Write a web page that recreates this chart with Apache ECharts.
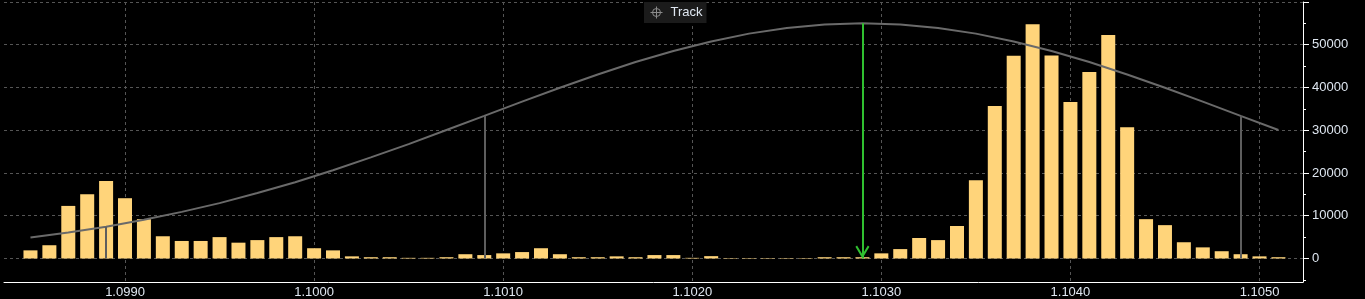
<!DOCTYPE html>
<html>
<head>
<meta charset="utf-8">
<script src="https://cdn.jsdelivr.net/npm/echarts@6/dist/echarts.min.js"></script>
<style>
html,body{margin:0;padding:0;background:#000;}
#chart{width:1365px;height:299px;}
</style>
</head>
<body>
<div id="chart"></div>
<script>
// Histogram bins (price level) and counts
const binCenters = [
  1.0985, 1.0986, 1.0987, 1.0988, 1.0989, 1.0990, 1.0991, 1.0992, 1.0993, 1.0994,
  1.0995, 1.0996, 1.0997, 1.0998, 1.0999, 1.1000, 1.1001, 1.1002, 1.1003, 1.1004,
  1.1005, 1.1006, 1.1007, 1.1008, 1.1009, 1.1010, 1.1011, 1.1012, 1.1013, 1.1014,
  1.1015, 1.1016, 1.1017, 1.1018, 1.1019, 1.1020, 1.1021, 1.1022, 1.1023, 1.1024,
  1.1025, 1.1026, 1.1027, 1.1028, 1.1029, 1.1030, 1.1031, 1.1032, 1.1033, 1.1034,
  1.1035, 1.1036, 1.1037, 1.1038, 1.1039, 1.1040, 1.1041, 1.1042, 1.1043, 1.1044,
  1.1045, 1.1046, 1.1047, 1.1048, 1.1049, 1.1050, 1.1051
];
const binCounts = [
  1900, 3100, 12300, 15000, 18100, 14100, 9200, 5200, 4100, 4100,
  5000, 3700, 4300, 5000, 5200, 2400, 1900, 500, 300, 300,
  150, 150, 300, 1000, 800, 1200, 1500, 2400, 1000, 300,
  300, 500, 300, 800, 800, 150, 550, 100, 100, 100,
  100, 100, 300, 300, 300, 1200, 2200, 4800, 4300, 7600,
  18300, 35700, 47400, 54800, 47500, 36600, 43600, 52300, 30700, 9200,
  7800, 3800, 2600, 1700, 1000, 500, 300
];

// "Track" curve
const curveX = [
  1.0985, 1.0987, 1.0989, 1.0991, 1.0993, 1.0995, 1.0997, 1.0999, 1.1001, 1.1003,
  1.1005, 1.1007, 1.1009, 1.1011, 1.1013, 1.1015, 1.1017, 1.1019, 1.1021, 1.1023,
  1.1025, 1.1027, 1.1029, 1.1031, 1.1033, 1.1035, 1.1037, 1.1039, 1.1041, 1.1043,
  1.1045, 1.1047, 1.1049, 1.1051
];
const curveY = [
  4900, 6100, 7450, 9050, 10900, 12950, 15300, 17850, 20650, 23650,
  26750, 30050, 33350, 36700, 39950, 43050, 45950, 48550, 50750, 52600,
  53900, 54750, 55000, 54750, 53900, 52600, 50750, 48550, 45950, 43050,
  39950, 36700, 33350, 30050
];

// Reference drop lines and arrow
const refX = [1.0989, 1.1009, 1.1049];
const refTop = [7450, 33350, 33350];
const arrowX = 1.1029;
const arrowTop = 55000;

// Axis ticks / labels
const xTickValues = [1.0990, 1.1000, 1.1010, 1.1020, 1.1030, 1.1040, 1.1050];
const yMajorTicks = [0, 10000, 20000, 30000, 40000, 50000, 60000];
const yMinorTicks = [-5000, 5000, 15000, 25000, 35000, 45000, 55000];
const yLabelValues = [0, 10000, 20000, 30000, 40000, 50000];

const labelColor = '#dfe7f1';
const gridColor = '#555555';
const fontFamily = "'Liberation Sans', Arial, sans-serif";

const chart = echarts.init(document.getElementById('chart'), null, {renderer: 'canvas'});

const barData = binCenters.map((x, i) => [x, binCounts[i]]);
const curveData = curveX.map((x, i) => [x, curveY[i]]);

const chevron = 'path://M6,0 L12,9 L10.6,10 L6,3 L1.4,10 L0,9 Z';

chart.setOption({
  animation: false,
  backgroundColor: '#000000',
  textStyle: {fontFamily: fontFamily},
  grid: {left: 4, right: 62, top: 2, bottom: 17, containLabel: false},
  legend: {
    left: 644, top: 2,
    padding: [4, 4, 4, 6],
    backgroundColor: '#1b1b1b',
    itemWidth: 12, itemHeight: 12,
    icon: 'path://M6,0 V12 M0,6 H12 M10,6 A4,4 0 1 1 2,6 A4,4 0 1 1 10,6',
    itemStyle: {color: 'transparent', borderColor: '#8a8a8a', borderWidth: 1},
    textStyle: {color: labelColor, fontSize: 13, fontFamily: fontFamily, padding: [0, 0, 0, 3]},
    data: ['Track']
  },
  xAxis: {
    type: 'value',
    min: 1.09836, max: 1.10523,
    axisLine: {show: true, onZero: false, lineStyle: {color: '#ffffff', width: 1}},
    axisTick: {show: false, customValues: xTickValues},
    axisLabel: {
      customValues: xTickValues,
      formatter: v => v.toFixed(4),
      color: labelColor, fontSize: 13, fontFamily: fontFamily, margin: 4
    },
    splitLine: {show: true, lineStyle: {color: gridColor, width: 1, type: [3, 3]}}
  },
  yAxis: [
    {
      type: 'value', position: 'right',
      min: -5500, max: 60000,
      axisLine: {show: true, onZero: false, lineStyle: {color: '#ffffff', width: 1}},
      axisTick: {show: true, length: 6, customValues: yMajorTicks, lineStyle: {color: '#ffffff', width: 1}},
      axisLabel: {
        customValues: yLabelValues,
        formatter: v => String(v),
        color: labelColor, fontSize: 13, fontFamily: fontFamily, margin: 9
      },
      splitLine: {show: true, lineStyle: {color: gridColor, width: 1, type: [3, 3]}}
    },
    {
      type: 'value', position: 'left', offset: -1299,
      min: -5500, max: 60000,
      axisLine: {show: false, onZero: false},
      axisTick: {show: true, inside: true, length: 3, customValues: yMinorTicks, lineStyle: {color: '#ffffff', width: 1}},
      axisLabel: {show: false},
      splitLine: {show: false}
    }
  ],
  series: [
    {
      name: 'Histogram',
      type: 'bar',
      yAxisIndex: 0,
      barWidth: 14,
      itemStyle: {color: '#ffd47a'},
      data: barData,
      z: 2,
      markLine: {
        silent: true,
        symbol: ['none', chevron],
        symbolSize: [14, 13],
        symbolOffset: [[0, 0], [0, 6.5]],
        label: {show: false},
        lineStyle: {color: '#30c030', width: 2, type: 'solid'},
        data: [[{coord: [arrowX, arrowTop]}, {coord: [arrowX, 0]}]],
        z: 6
      }
    },
    {
      name: 'Track',
      type: 'line',
      yAxisIndex: 0,
      data: curveData,
      showSymbol: false,
      symbol: 'none',
      lineStyle: {color: '#6a6a6a', width: 2},
      itemStyle: {color: '#6a6a6a'},
      z: 4,
      markLine: {
        silent: true,
        symbol: ['none', 'none'],
        label: {show: false},
        lineStyle: {color: '#5e5e5e', width: 2, type: 'solid'},
        data: refX.map((x, i) => [{coord: [x, 0]}, {coord: [x, refTop[i]]}])
      }
    }
  ]
});
</script>
</body>
</html>
